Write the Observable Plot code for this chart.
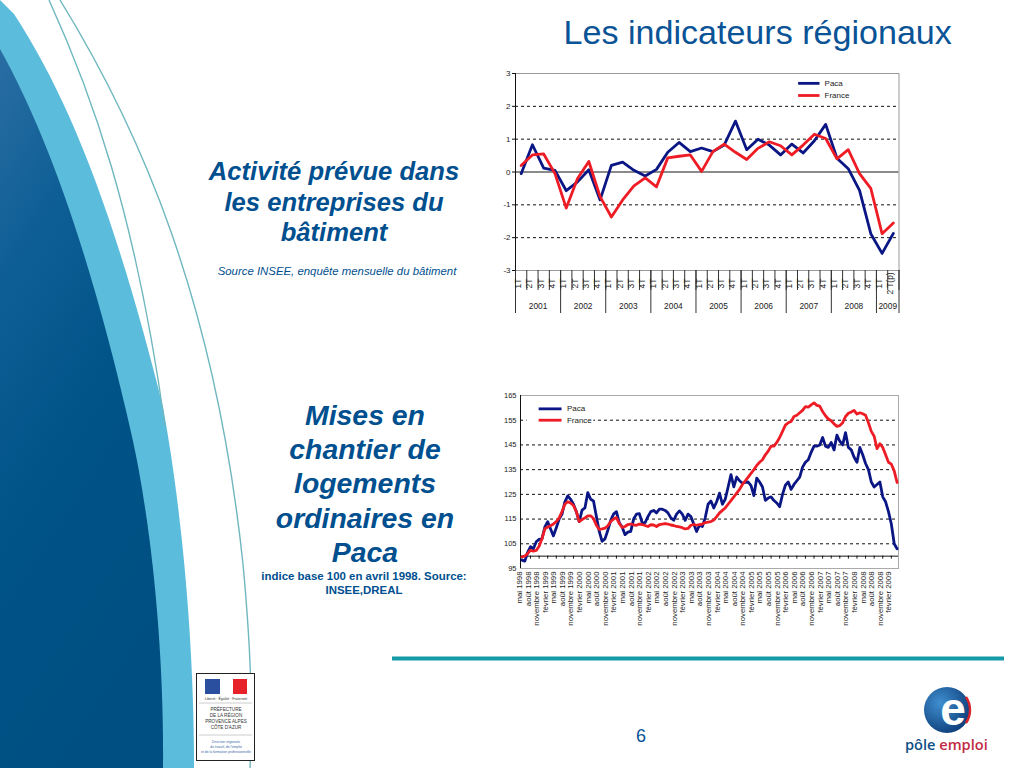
<!DOCTYPE html>
<html lang="fr"><head><meta charset="utf-8">
<script src="https://cdn.jsdelivr.net/npm/d3@7"></script>
<script src="https://cdn.jsdelivr.net/npm/@observablehq/plot@0.6"></script>
<style>
html,body{margin:0;padding:0;background:#fff;width:1024px;height:768px;overflow:hidden;font-family:"Liberation Sans",Arial,sans-serif}
.abs{position:absolute}
.blk{color:#004f8f;text-align:center;position:absolute}
.bi{font-weight:bold;font-style:italic}
#c1,#c2{position:absolute}
#c1{left:490px;top:60px}#c2{left:490px;top:385px}
#c1 svg,#c2 svg{display:block;background:transparent}
</style></head><body>
<svg class="abs" style="left:0;top:0" width="1024" height="768" viewBox="0 0 1024 768">
<defs>
<linearGradient id="dk" x1="0" y1="0" x2="0.35" y2="1"><stop offset="0" stop-color="#2a6ea3"/><stop offset="0.28" stop-color="#0f5f96"/><stop offset="0.6" stop-color="#005488"/><stop offset="1" stop-color="#004f83"/></linearGradient>
<radialGradient id="eb" cx="0.35" cy="0.35" r="0.75"><stop offset="0" stop-color="#3f8fd0"/><stop offset="1" stop-color="#0b3a75"/></radialGradient>
</defs>
<path d="M0,0 L14,14 C70,100 115,215 163,407 C180,500 194,630 194,768 L0,768 Z" fill="#5bbcdc"/>
<path d="M0,49 C45,130 90,250 133,441 C152,530 164,650 163,768 L0,768 Z" fill="url(#dk)"/>
<path d="M49,0 C90,90 135,210 165,426" fill="none" stroke="#6fb7bf" stroke-width="1.4"/>
<path d="M60,0 C140,130 215,300 243,564 C250,640 253,700 250,768" fill="none" stroke="#6fb7bf" stroke-width="1.4"/>
<rect x="392" y="656.5" width="612" height="4" fill="#149aa8"/>
<!-- préfecture -->
<rect x="196.5" y="673.5" width="58" height="87" fill="#fff" stroke="#222" stroke-width="1"/>
<rect x="205" y="679" width="15" height="15" fill="#2a4f9e"/><rect x="220" y="679" width="13" height="15" fill="#fff"/><rect x="233" y="679" width="14" height="15" fill="#e8222a"/>
<line x1="199" y1="703" x2="252" y2="703" stroke="#ccc"/><line x1="199" y1="735" x2="252" y2="735" stroke="#ccc"/>
<g font-family="Liberation Sans" text-anchor="middle" fill="#333">
<text x="226" y="700" font-size="3.5">Liberté · Égalité · Fraternité</text>
<text x="226" y="711" font-size="4.6">PRÉFECTURE</text><text x="226" y="717" font-size="4.6">DE LA RÉGION</text><text x="226" y="723" font-size="4.6">PROVENCE ALPES</text><text x="226" y="729" font-size="4.6">CÔTE D'AZUR</text>
<text x="226" y="743" font-size="3.4" fill="#3a6aa8">Direction régionale</text><text x="226" y="748" font-size="3.4" fill="#3a6aa8">du travail, de l'emploi</text><text x="226" y="753" font-size="3.4" fill="#3a6aa8">et de la formation professionnelle</text>
</g>
<!-- logo -->
<circle cx="947" cy="710" r="23" fill="url(#eb)"/>
<path d="M966,697 A23,23 0 0 1 966,723" fill="none" stroke="#d8242c" stroke-width="2.4"/>
<text x="953" y="725" font-family="Liberation Sans" font-weight="bold" font-size="46" fill="#fff" text-anchor="middle">e</text>
<text x="905" y="750" font-family="Open Sans" font-size="14.6" font-weight="600"><tspan fill="#0f4f86">pôle </tspan><tspan fill="#c22a45">emploi</tspan></text>
</svg>

<div class="abs" id="title" style="left:563.5px;top:13px;font-size:34.1px;color:#0a5396;white-space:nowrap;line-height:38px">Les indicateurs régionaux</div>

<div class="blk bi" style="left:200px;width:268px;top:156px;font-size:25.6px;line-height:30.5px">Activité prévue dans<br>les entreprises du<br>bâtiment</div>
<div class="blk" style="left:200px;width:274px;top:264px;font-size:11.4px;font-style:italic;line-height:14px;white-space:nowrap">Source INSEE, enquête mensuelle du bâtiment</div>

<div class="blk bi" style="left:250px;width:230px;top:398px;font-size:28.4px;line-height:34.2px">Mises en<br>chantier de<br>logements<br>ordinaires en<br>Paca</div>
<div class="blk" style="left:250px;width:228px;top:569px;font-size:11.45px;font-weight:bold;line-height:14px">indice base 100 en avril 1998. Source:<br>INSEE,DREAL</div>

<div class="abs" style="left:628px;top:726px;width:26px;text-align:center;font-size:18px;color:#0a5396">6</div>

<div id="c1"></div><div id="c2"></div>

<script>
// Chart 1: Activité prévue, quarterly 2001 – 2T 2009
const quarterLabels = ["1T","2T","3T","4T","1T","2T","3T","4T","1T","2T","3T","4T","1T","2T","3T","4T","1T","2T","3T","4T","1T","2T","3T","4T","1T","2T","3T","4T","1T","2T","3T","4T","1T","2 T(p)"];
const years = ["2001","2002","2003","2004","2005","2006","2007","2008","2009"];
const yearStarts = [0,4,8,12,16,20,24,28,32,34];
const pacaActivite = [-0.05,0.83,0.12,0.05,-0.57,-0.3,0.07,-0.85,0.2,0.3,0.05,-0.12,0.08,0.6,0.9,0.62,0.73,0.62,0.82,1.55,0.68,1.0,0.82,0.52,0.85,0.58,0.95,1.45,0.42,0.1,-0.56,-1.88,-2.48,-1.87];
const franceActivite = [0.2,0.52,0.55,-0.05,-1.1,-0.2,0.32,-0.75,-1.37,-0.85,-0.42,-0.18,-0.45,0.43,0.48,0.52,0.02,0.62,0.85,0.6,0.38,0.72,0.92,0.8,0.52,0.82,1.15,1.02,0.4,0.68,-0.05,-0.5,-1.88,-1.55];
const ticks1 = [-3,-2,-1,0,1,2,3];
const dashed1 = [-2,-1,1,2];

// Chart 2: Mises en chantier, monthly, base 100
const monthLabels = ["mai 1998","août 1998","novembre 1998","février 1999","mai 1999","août 1999","novembre 1999","février 2000","mai 2000","août 2000","novembre 2000","février 2001","mai 2001","août 2001","novembre 2001","février 2002","mai 2002","août 2002","novembre 2002","février 2003","mai 2003","août 2003","novembre 2003","février 2004","mai 2004","août 2004","novembre 2004","février 2005","mai 2005","août 2005","novembre 2005","février 2006","mai 2006","août 2006","novembre 2006","février 2007","mai 2007","août 2007","novembre 2007","février 2008","mai 2008","août 2008","novembre 2008","février 2009"];
const pacaLogements = [98.4,98,101.5,103.8,103,105.8,106.8,107,111.8,113.9,111,108.2,111.5,115,117,122,124.4,123,121,118,114,118.6,119.5,125.7,123,122.3,116,110,106,107,110.5,114.5,117,118,113.5,111.8,108.7,109.7,110,115,117,117.2,113.5,113.5,116,118,118.5,117.5,119,119,118.5,117.5,115.5,114.5,117,118.3,117,114.5,117,116,113,110,112.5,112,115.5,121,122.3,119.5,122,125.5,121,123,128,133,128,132,130.5,129.5,129.8,130,128.5,124.5,131.6,130,128,122.6,123.5,124,122.5,121.5,120,125,128.7,130,127,129,130.5,132,136,138,139,142,144.5,144.5,145,148,144.5,144,146,143,149,146.5,145,150,144,143,140,138,144,141,137.5,135,130,128,129,130,124,122,118,113,105,103];
const franceLogements = [99.7,100,101,102.4,102,102.3,104,107,111,111.8,112.3,113,114,115.5,118,121,122,121.5,120.5,118,114,114.8,115.5,116.3,116.3,115.2,112.5,110.8,111,111.3,112.3,114,115,115.6,113.2,111.6,112,112.8,113,112.7,112.5,113,112.8,112.4,112,112.7,112.6,112,112.8,113,113.2,113,112.6,112.4,112,111.8,111.5,111,111.2,112.5,112.8,112.5,112.8,113,113.6,113.8,114,114.6,116,117.5,118.5,119.5,121,122.5,124,125.5,127,129,130.5,132,133.5,135,136.7,138,139,141,142.5,144.5,144.5,146,148,150.5,153,154,154.5,156.5,157,158,159,160.5,160.3,161.2,162,161,160.7,158.5,156.8,155.5,154.8,153.5,152.5,152.8,154,156.5,157.8,158.3,159,157.5,158,157.6,157,154,150.5,148.5,143.5,145.5,144,141,138,137.2,134.5,129.8];
const ticks2 = [95,105,115,125,135,145,155,165];
const dashed2 = [105,115,125,135,145,155];
const seriesNames = ["Paca","France"];
const seriesColors = ["#0b1685","#ee1c25"];

const FONT = "Liberation Sans";
const toRows = a => a.map((v,i)=>({i:i+0.5,v}));

function legend(x1,x2,xt,ys){
  return seriesNames.flatMap((n,k)=>[
    Plot.ruleY([ys[k]],{x1,x2,stroke:seriesColors[k],strokeWidth:2.8}),
    Plot.text([n],{x:xt,y:ys[k],text:d=>d,textAnchor:"start",fill:"#222",fontSize:8})
  ]);
}

const c1 = Plot.plot({
  width:420,height:260,marginLeft:25,marginRight:11.5,marginTop:13,marginBottom:50,
  style:{fontFamily:FONT,background:"transparent",overflow:"visible"},
  x:{type:"linear",domain:[0,34],axis:null},
  y:{domain:[-3,3],axis:null},
  marks:[
    Plot.frame({stroke:"#999",strokeWidth:1}),
    Plot.ruleY(dashed1,{stroke:"#111",strokeDasharray:"3,3",strokeWidth:1}),
    Plot.ruleY([0],{stroke:"#8a8a8a",strokeWidth:2.2}),
    Plot.ruleX([0],{stroke:"#111"}),
    Plot.axisY({ticks:ticks1,tickSize:3,tickPadding:2,tickFormat:d=>d,fontSize:8,color:"#222",stroke:"#111",label:null}),
    Plot.axisX({anchor:"bottom",ticks:d3.range(0,35),tickSize:20,tickFormat:()=>"",stroke:"#333",label:null}),
    Plot.axisX({anchor:"bottom",ticks:yearStarts,tickSize:43,tickFormat:()=>"",stroke:"#333",label:null}),
    Plot.text(quarterLabels,{x:(d,i)=>i+0.5,frameAnchor:"bottom",dy:13,text:d=>d,rotate:-90,fontSize:8.4,fill:"#222",textAnchor:"middle"}),
    Plot.text(years,{x:(d,i)=>(yearStarts[i]+yearStarts[i+1])/2,frameAnchor:"bottom",dy:38,text:d=>d,fontSize:8.4,fill:"#222"}),
    Plot.line(toRows(pacaActivite),{x:"i",y:"v",stroke:seriesColors[0],strokeWidth:2.8,curve:"linear"}),
    Plot.line(toRows(franceActivite),{x:"i",y:"v",stroke:seriesColors[1],strokeWidth:2.8,curve:"linear"}),
    ...legend(25.1,27,27.4,[2.7,2.33])
  ]
});
document.getElementById("c1").append(c1);

const c2 = Plot.plot({
  width:420,height:250,marginLeft:30,marginRight:12,marginTop:10,marginBottom:67,
  style:{fontFamily:FONT,background:"transparent",overflow:"visible"},
  x:{type:"linear",domain:[0,132],axis:null},
  y:{domain:[95,165],axis:null},
  marks:[
    Plot.frame({stroke:"#aaa",strokeWidth:1}),
    Plot.ruleY(dashed2,{stroke:"#111",strokeDasharray:"3,3",strokeWidth:1}),
    Plot.rect([0],{x1:2.3,x2:25.6,y1:152.5,y2:163,fill:"#fff"}),
    Plot.ruleX([0],{stroke:"#111"}),
    Plot.ruleY([100],{stroke:"#111"}),
    Plot.ruleX(monthLabels,{x:(d,i)=>3*i+0.5,y1:100,y2:98.8,stroke:"#111"}),
    Plot.axisY({ticks:ticks2,tickSize:0,tickPadding:4,tickFormat:d=>d,fontSize:7.5,color:"#222",label:null}),
    Plot.text(monthLabels,{x:(d,i)=>3*i+0.5,frameAnchor:"bottom",dy:3,text:d=>d,rotate:-90,textAnchor:"end",fontSize:7.8,fill:"#222"}),
    Plot.line(toRows(pacaLogements),{x:"i",y:"v",stroke:seriesColors[0],strokeWidth:2.8}),
    Plot.line(toRows(franceLogements),{x:"i",y:"v",stroke:seriesColors[1],strokeWidth:2.8}),
    ...legend(6.5,14.5,16.2,[159.6,155])
  ]
});
document.getElementById("c2").append(c2);
</script>
</body></html>
